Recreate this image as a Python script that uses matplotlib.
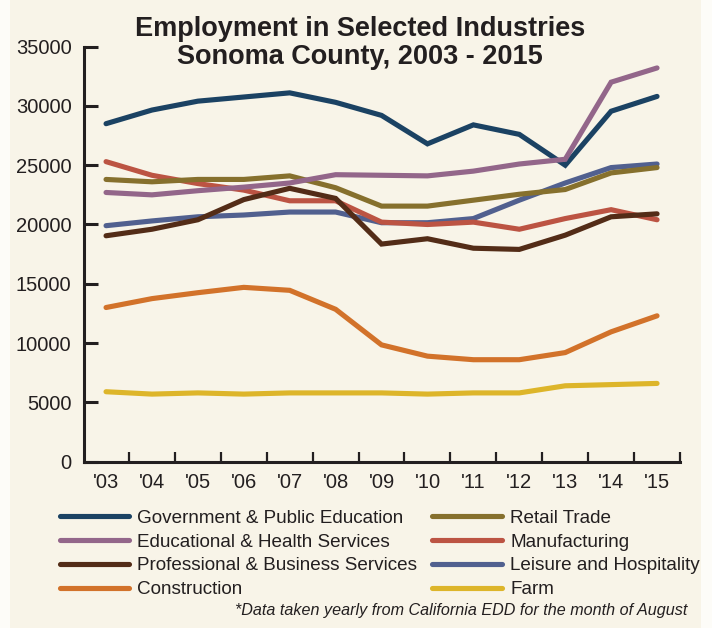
import numpy as np
import matplotlib.pyplot as plt
from matplotlib.patches import Rectangle

plt.rcParams['font.family'] = ['Liberation Sans', 'DejaVu Sans']

years = np.arange(2003, 2016)
year_labels = ["'03", "'04", "'05", "'06", "'07", "'08", "'09",
               "'10", "'11", "'12", "'13", "'14", "'15"]

gov = [28500, 29650, 30400, 30750, 31100, 30300, 29200, 26800, 28400, 27600, 25000, 29550, 30800]
edu_health = [22700, 22500, 22850, 23150, 23500, 24200, 24150, 24100, 24500, 25100, 25500, 32000, 33200]
professional = [19050, 19600, 20400, 22100, 23050, 22200, 18350, 18800, 18000, 17900, 19100, 20650, 20900]
construction = [13000, 13750, 14250, 14700, 14450, 12850, 9850, 8900, 8600, 8600, 9200, 10950, 12300]
retail = [23800, 23600, 23800, 23800, 24100, 23100, 21550, 21550, 22050, 22550, 22950, 24350, 24800]
manufacturing = [25300, 24150, 23450, 22900, 22000, 22000, 20200, 20000, 20200, 19600, 20500, 21250, 20400]
leisure = [19900, 20300, 20650, 20800, 21050, 21050, 20150, 20150, 20500, 22050, 23500, 24800, 25100]
farm = [5900, 5700, 5800, 5700, 5800, 5800, 5800, 5700, 5800, 5800, 6400, 6500, 6600]

series = [
    ("Government & Public Education", gov, "#1b4263"),
    ("Educational & Health Services", edu_health, "#93668a"),
    ("Professional & Business Services", professional, "#532c17"),
    ("Construction", construction, "#d2722a"),
    ("Retail Trade", retail, "#86702d"),
    ("Manufacturing", manufacturing, "#bc5443"),
    ("Leisure and Hospitality", leisure, "#51608f"),
    ("Farm", farm, "#ddb52a"),
]

bg = "#f8f4e8"
ink = "#231f20"

fig = plt.figure(figsize=(7.12, 6.28), dpi=100)
fig.patch.set_facecolor("#fdfcf8")
fig.add_artist(Rectangle((10 / 712, 0), 691 / 712, 1, transform=fig.transFigure,
                         facecolor=bg, edgecolor="none", zorder=0))

ax = fig.add_axes([84 / 712, 1 - 461.7 / 628, 596 / 712, 415.1 / 628])
ax.set_facecolor(bg)

# farm and construction at the back, education/health on top
draw_order = [3, 7, 6, 5, 2, 4, 0, 1]
for i in draw_order:
    name, vals, col = series[i]
    ax.plot(years, vals, color=col, lw=3.7, solid_capstyle="round",
            solid_joinstyle="miter", label=name, zorder=3 + draw_order.index(i))

ax.set_xlim(2002.52, 2015.5)
ax.set_ylim(0, 35000)
ax.set_yticks(np.arange(0, 35001, 5000))
ax.set_yticklabels([str(v) for v in range(0, 35001, 5000)])
# tick marks between years, labels centred on the years
ax.set_xticks(years + 0.5)
ax.set_xticklabels([])
ax.set_xticks(years, minor=True)
ax.set_xticklabels(year_labels, minor=True)

for side in ("top", "right"):
    ax.spines[side].set_visible(False)
for side in ("left", "bottom"):
    ax.spines[side].set_color(ink)
    ax.spines[side].set_linewidth(2.2)

ax.tick_params(axis="y", direction="in", length=10, width=2.2, color=ink,
               labelsize=14.5, labelcolor=ink, pad=9)
ax.tick_params(axis="x", which="major", direction="in", length=7, width=1.6, color=ink)
ax.tick_params(axis="x", which="minor", length=0, labelsize=14.5, labelcolor=ink, pad=8)

fig.text(0.506, 0.974, "Employment in Selected Industries\nSonoma County, 2003 - 2015",
         ha="center", va="top", fontsize=19.5, fontweight="bold", color=ink,
         linespacing=1.1)

handles = {h.get_label(): h for h in ax.get_lines()}
order = [s[0] for s in series]
fig.legend([handles[n] for n in order], order, ncol=2,
           loc="upper left", bbox_to_anchor=(52 / 712, 1 - 502 / 628),
           frameon=False, fontsize=13.6, handlelength=3.7, handletextpad=0.42,
           columnspacing=0.8, labelspacing=0.35, borderaxespad=0,
           labelcolor=ink)

fig.text(687 / 712, 1 - 611 / 628,
         "*Data taken yearly from California EDD for the month of August",
         ha="right", va="center", fontsize=11.6, style="italic", color=ink)

fig.savefig("out.png", dpi=100, facecolor=fig.get_facecolor())
